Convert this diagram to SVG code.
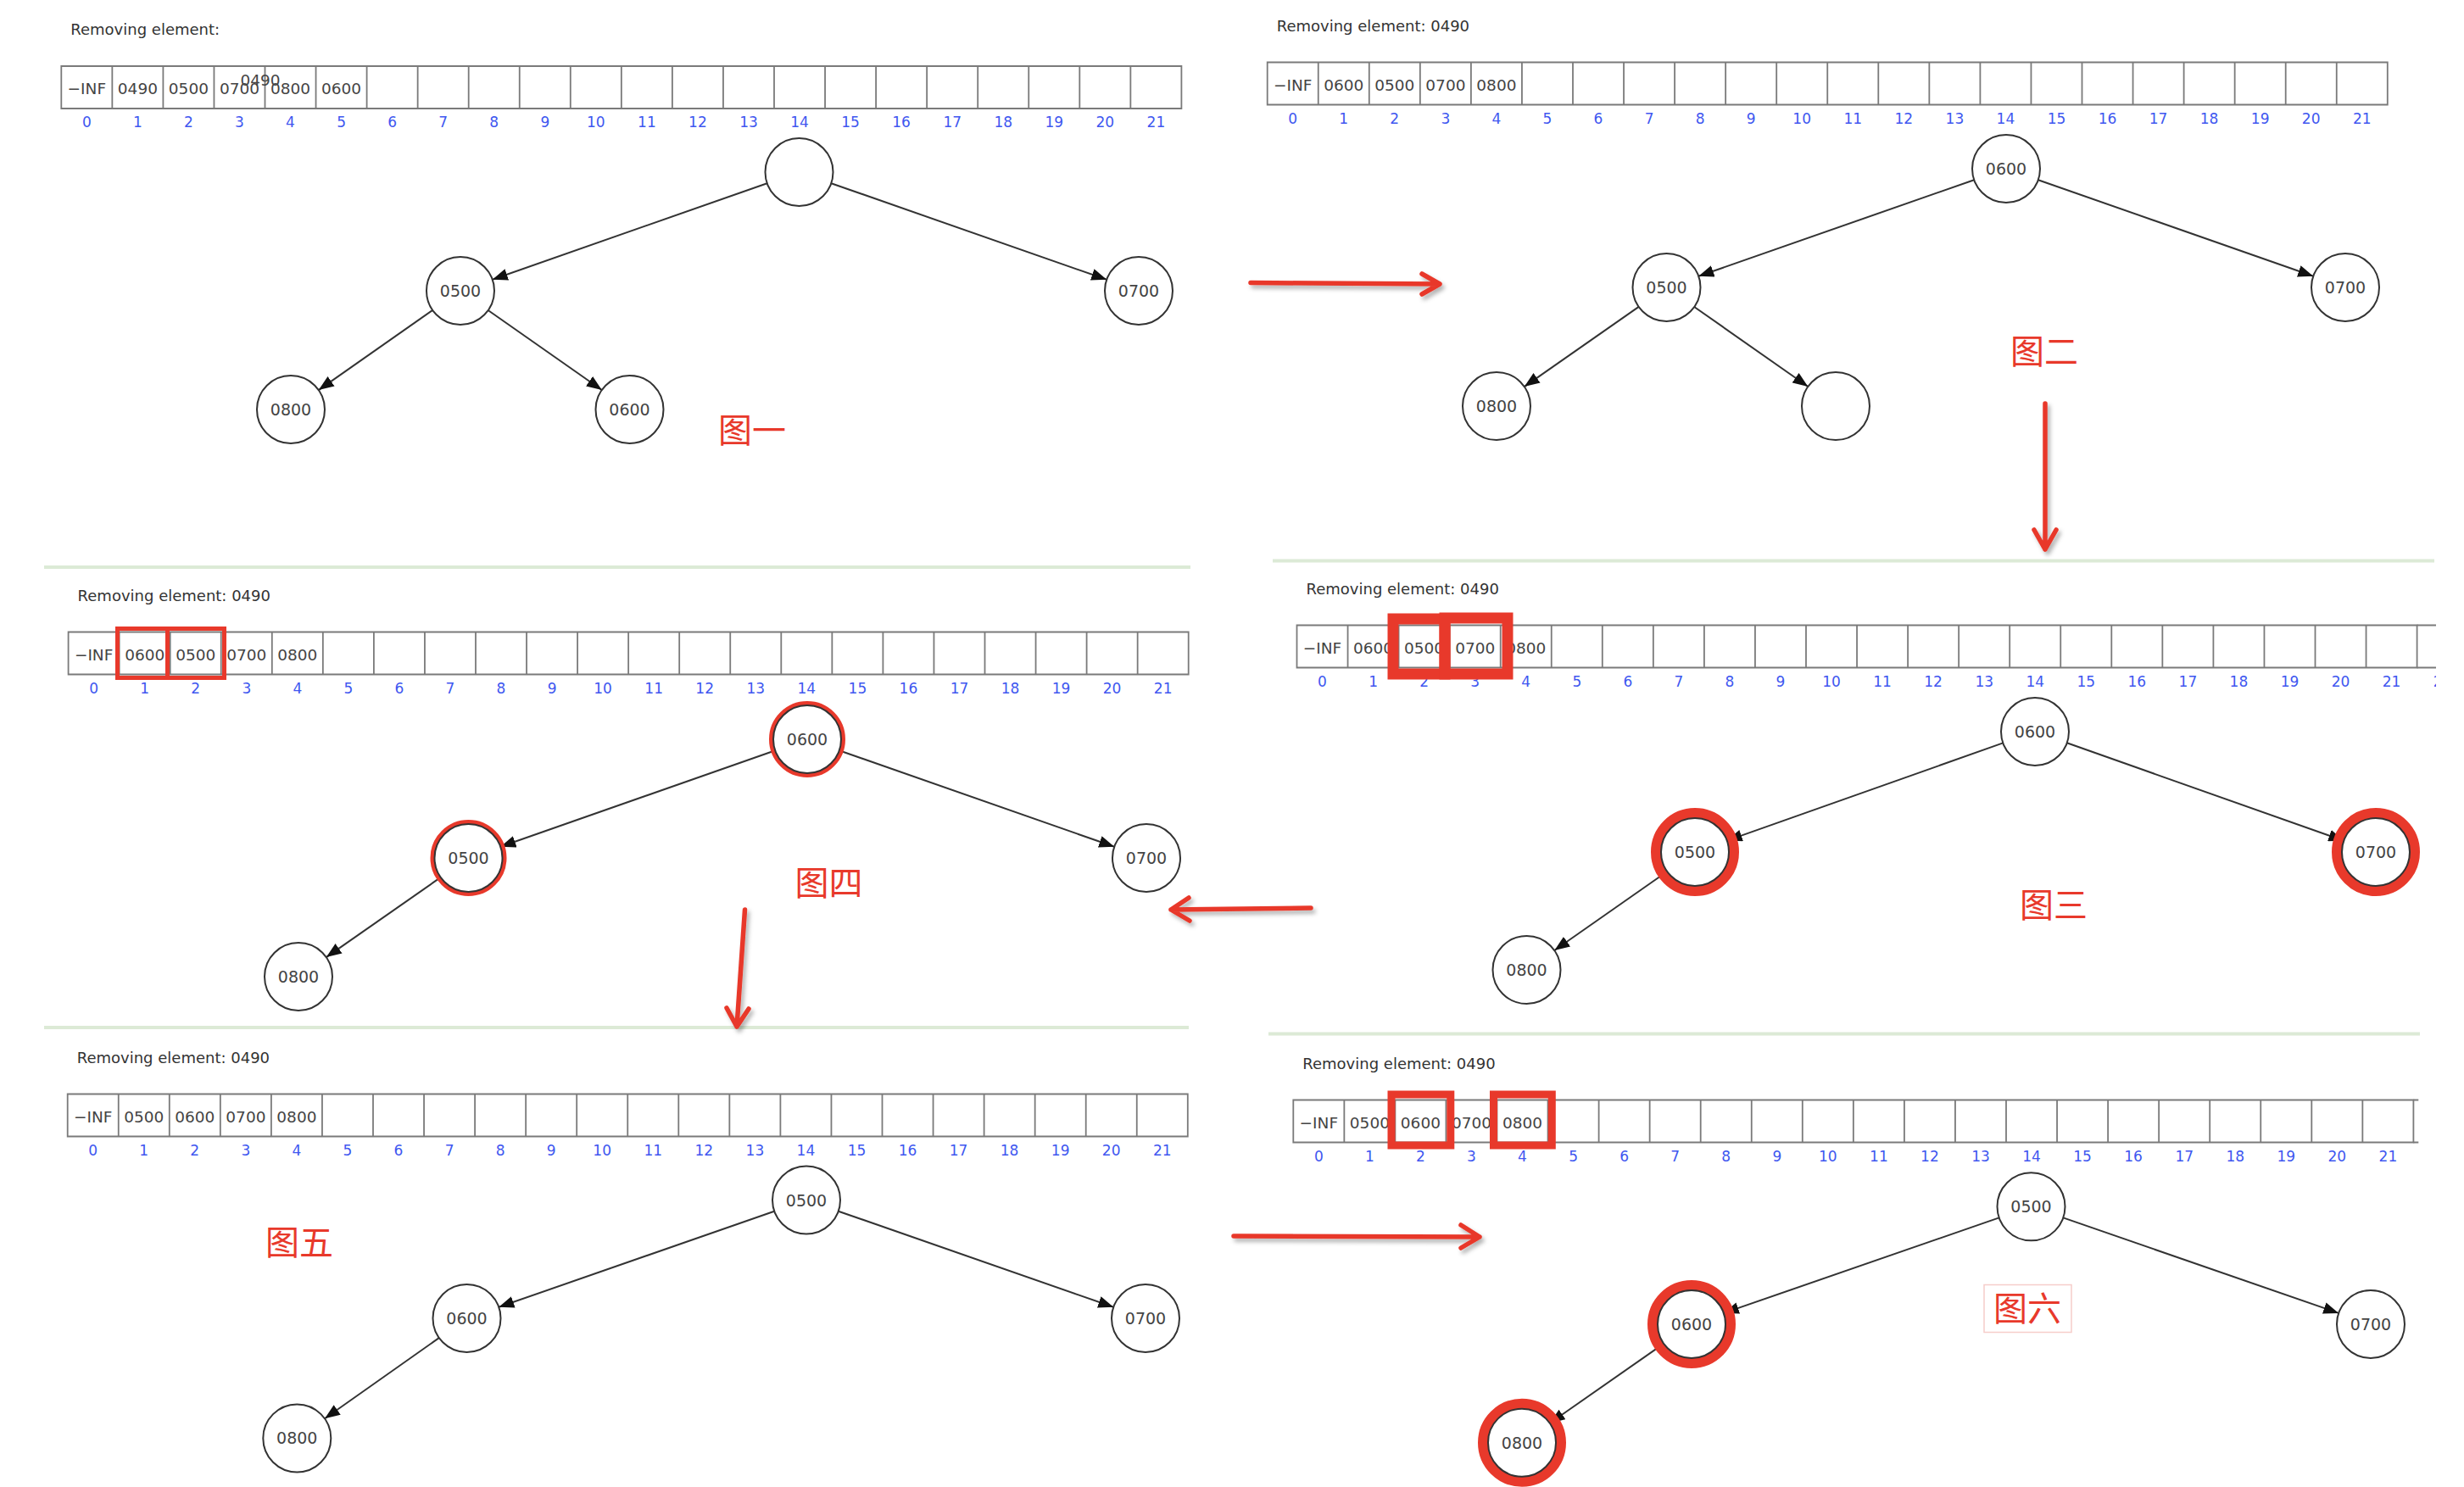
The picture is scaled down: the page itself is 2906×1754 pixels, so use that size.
<svg xmlns="http://www.w3.org/2000/svg" xmlns:xlink="http://www.w3.org/1999/xlink" width="2906" height="1754" viewBox="0 0 2906 1754">
<style>
.ttl{font-family:"DejaVu Sans","Liberation Sans",sans-serif;font-size:18px;fill:#333}
.cell{font-family:"DejaVu Sans","Liberation Sans",sans-serif;font-size:18.5px;fill:#444;text-anchor:middle}
.idx{font-family:"DejaVu Sans","Liberation Sans",sans-serif;font-size:17px;fill:#4057f0;text-anchor:middle}
.grid{fill:none;stroke:#7a7a7a;stroke-width:1.8}
.nc{fill:#fff;stroke:#333;stroke-width:2}
.nt{font-family:"DejaVu Sans","Liberation Sans",sans-serif;font-size:19px;fill:#444;text-anchor:middle}
.ring1{fill:none;stroke:#e8392b;stroke-width:5}
.ring2{fill:none;stroke:#e8392b;stroke-width:12}
.box{fill:none;stroke:#e8392b}
.edge{stroke:#333;stroke-width:2;fill:none;marker-end:url(#ah)}
.flow{stroke:#e8392b;stroke-width:5.5;fill:none;stroke-linecap:round;stroke-linejoin:round;filter:url(#sh)}
.sep{stroke:#dcead6;stroke-width:4}
.lbl{font-family:"Noto Sans CJK SC",sans-serif;font-size:40px;fill:#e8392b;text-anchor:middle}
</style>
<defs>
<marker id="ah" markerWidth="20" markerHeight="14" refX="18" refY="7" orient="auto" markerUnits="userSpaceOnUse">
<path d="M0,0 L18,7 L0,14 z" fill="#111"/>
</marker>
<filter id="sh" filterUnits="userSpaceOnUse" x="0" y="0" width="2906" height="1754">
<feDropShadow dx="3" dy="4" stdDeviation="2.5" flood-color="#000" flood-opacity="0.3"/>
</filter>
<clipPath id="clipD"><rect x="-20" y="-60" width="1363.5" height="160"/></clipPath>
<path id="grid" class="grid" d="M0,0H1321.1V50H0Z M60.05,0V50 M120.1,0V50 M180.15,0V50 M240.2,0V50 M300.25,0V50 M360.3,0V50 M420.35,0V50 M480.4,0V50 M540.45,0V50 M600.5,0V50 M660.55,0V50 M720.6,0V50 M780.65,0V50 M840.7,0V50 M900.75,0V50 M960.8,0V50 M1020.85,0V50 M1080.9,0V50 M1140.95,0V50 M1201,0V50 M1261.05,0V50"/>
<g id="idx">
<text class="idx" x="30" y="72">0</text>
<text class="idx" x="90.1" y="72">1</text>
<text class="idx" x="150.1" y="72">2</text>
<text class="idx" x="210.2" y="72">3</text>
<text class="idx" x="270.2" y="72">4</text>
<text class="idx" x="330.3" y="72">5</text>
<text class="idx" x="390.3" y="72">6</text>
<text class="idx" x="450.4" y="72">7</text>
<text class="idx" x="510.4" y="72">8</text>
<text class="idx" x="570.5" y="72">9</text>
<text class="idx" x="630.5" y="72">10</text>
<text class="idx" x="690.6" y="72">11</text>
<text class="idx" x="750.6" y="72">12</text>
<text class="idx" x="810.7" y="72">13</text>
<text class="idx" x="870.7" y="72">14</text>
<text class="idx" x="930.8" y="72">15</text>
<text class="idx" x="990.8" y="72">16</text>
<text class="idx" x="1050.9" y="72">17</text>
<text class="idx" x="1110.9" y="72">18</text>
<text class="idx" x="1171" y="72">19</text>
<text class="idx" x="1231" y="72">20</text>
<text class="idx" x="1291.1" y="72">21</text>
</g>
</defs>
<rect width="2906" height="1754" fill="#fff"/>

<g id="separators">
<line class="sep" x1="52" y1="669" x2="1404" y2="669"/>
<line class="sep" x1="52" y1="1212" x2="1402" y2="1212"/>
<line class="sep" x1="1501" y1="661.5" x2="2871" y2="661.5"/>
<line class="sep" x1="1496" y1="1219.5" x2="2854" y2="1219.5"/>
</g>

<g id="arrayA" transform="translate(72.3,78)">
<text class="ttl" x="11" y="-37">Removing element:</text>
<use xlink:href="#grid" href="#grid"/>
<use xlink:href="#idx" href="#idx"/>
<text class="cell" x="30" y="33">−INF</text>
<text class="cell" x="90.1" y="33">0490</text>
<text class="cell" x="150.1" y="33">0500</text>
<text class="cell" x="210.2" y="33">0700</text>
<text class="cell" x="270.2" y="33">0800</text>
<text class="cell" x="330.3" y="33">0600</text>
<text class="cell" x="234.7" y="23">0490</text>
</g>

<g id="arrayB" transform="translate(1494.7,73.5)">
<text class="ttl" x="11" y="-37">Removing element: 0490</text>
<use xlink:href="#grid" href="#grid"/>
<use xlink:href="#idx" href="#idx"/>
<text class="cell" x="30" y="33">−INF</text>
<text class="cell" x="90.1" y="33">0600</text>
<text class="cell" x="150.1" y="33">0500</text>
<text class="cell" x="210.2" y="33">0700</text>
<text class="cell" x="270.2" y="33">0800</text>
</g>

<g id="arrayC" transform="translate(80.6,745.5)">
<text class="ttl" x="11" y="-37">Removing element: 0490</text>
<use xlink:href="#grid" href="#grid"/>
<use xlink:href="#idx" href="#idx"/>
<text class="cell" x="30" y="33">−INF</text>
<text class="cell" x="90.1" y="33">0600</text>
<text class="cell" x="150.1" y="33">0500</text>
<text class="cell" x="210.2" y="33">0700</text>
<text class="cell" x="270.2" y="33">0800</text>
<rect class="box" stroke-width="5" x="57.9" y="-4" width="59" height="58"/>
<rect class="box" stroke-width="5" x="116.9" y="-4" width="67" height="58"/>
</g>

<g id="arrayD" transform="translate(1529.5,737.5)">
<text class="ttl" x="11" y="-37">Removing element: 0490</text>
<g clip-path="url(#clipD)">
<use xlink:href="#grid" href="#grid"/>
<path class="grid" d="M1321.1,0H1381.15V50H1321.1"/>
<use xlink:href="#idx" href="#idx"/>
<text class="idx" x="1351.1" y="72">22</text>
</g>
<text class="cell" x="30" y="33">−INF</text>
<text class="cell" x="90.1" y="33">0600</text>
<text class="cell" x="150.1" y="33">0500</text>
<text class="cell" x="210.2" y="33">0700</text>
<text class="cell" x="270.2" y="33">0800</text>
<rect class="box" stroke-width="13" x="113.5" y="-7.5" width="61" height="65"/>
<rect class="box" stroke-width="13" x="174.5" y="-8.5" width="74" height="66"/>
</g>

<g id="arrayE" transform="translate(79.7,1290.5)">
<text class="ttl" x="11" y="-37">Removing element: 0490</text>
<use xlink:href="#grid" href="#grid"/>
<use xlink:href="#idx" href="#idx"/>
<text class="cell" x="30" y="33">−INF</text>
<text class="cell" x="90.1" y="33">0500</text>
<text class="cell" x="150.1" y="33">0600</text>
<text class="cell" x="210.2" y="33">0700</text>
<text class="cell" x="270.2" y="33">0800</text>
</g>

<g id="arrayF" transform="translate(1525.3,1297.5)">
<text class="ttl" x="11" y="-37">Removing element: 0490</text>
<use xlink:href="#grid" href="#grid"/>
<path class="grid" d="M1321.1,0H1327 M1321.1,50H1327"/>
<use xlink:href="#idx" href="#idx"/>
<text class="cell" x="30" y="33">−INF</text>
<text class="cell" x="90.1" y="33">0500</text>
<text class="cell" x="150.1" y="33">0600</text>
<text class="cell" x="210.2" y="33">0700</text>
<text class="cell" x="270.2" y="33">0800</text>
<rect class="box" stroke-width="9" x="115.7" y="-6.5" width="69.8" height="60"/>
<rect class="box" stroke-width="9" x="236.2" y="-6.5" width="68.8" height="60"/>
</g>

<g id="connectors">
<line class="edge" x1="904.7" y1="216.2" x2="580.8" y2="329.8"/>
<line class="edge" x1="980.3" y1="216.2" x2="1305.2" y2="329.8"/>
<line class="edge" x1="510.2" y1="365.9" x2="375.8" y2="460.1"/>
<line class="edge" x1="575.7" y1="366" x2="709.8" y2="460"/>

<line class="edge" x1="2328.2" y1="212.2" x2="2003.3" y2="325.8"/>
<line class="edge" x1="2403.8" y1="212.2" x2="2728.2" y2="325.8"/>
<line class="edge" x1="1932.7" y1="361.9" x2="1797.8" y2="456.1"/>
<line class="edge" x1="1998.2" y1="362" x2="2132.3" y2="456"/>

<line class="edge" x1="914.2" y1="885.2" x2="590.3" y2="998.8"/>
<line class="edge" x1="989.8" y1="885.2" x2="1314.2" y2="998.8"/>
<line class="edge" x1="519.7" y1="1034.9" x2="384.8" y2="1129.1"/>

<line class="edge" x1="2362.3" y1="876.4" x2="2036.7" y2="991.6"/>
<line class="edge" x1="2437.7" y1="876.3" x2="2764.3" y2="991.7"/>
<line class="edge" x1="1966.2" y1="1028" x2="1833.3" y2="1121"/>

<line class="edge" x1="913.2" y1="1428.7" x2="588.3" y2="1541.8"/>
<line class="edge" x1="988.8" y1="1428.7" x2="1313.2" y2="1541.8"/>
<line class="edge" x1="517.8" y1="1578.1" x2="383" y2="1673.3"/>

<line class="edge" x1="2357.7" y1="1436.4" x2="2032.8" y2="1548.9"/>
<line class="edge" x1="2433.3" y1="1436.4" x2="2758.2" y2="1548.9"/>
<line class="edge" x1="1962.2" y1="1584.9" x2="1827.8" y2="1678.8"/>
</g>

<g id="A-root"><circle class="nc" cx="942.5" cy="203" r="40"/></g>
<g id="A-0500"><circle class="nc" cx="543" cy="343" r="40"/><text class="nt" x="543" y="350">0500</text></g>
<g id="A-0700"><circle class="nc" cx="1343" cy="343" r="40"/><text class="nt" x="1343" y="350">0700</text></g>
<g id="A-0800"><circle class="nc" cx="343" cy="483" r="40"/><text class="nt" x="343" y="490">0800</text></g>
<g id="A-0600"><circle class="nc" cx="742.5" cy="483" r="40"/><text class="nt" x="742.5" y="490">0600</text></g>

<g id="B-0600"><circle class="nc" cx="2366" cy="199" r="40"/><text class="nt" x="2366" y="206">0600</text></g>
<g id="B-0500"><circle class="nc" cx="1965.5" cy="339" r="40"/><text class="nt" x="1965.5" y="346">0500</text></g>
<g id="B-0700"><circle class="nc" cx="2766" cy="339" r="40"/><text class="nt" x="2766" y="346">0700</text></g>
<g id="B-0800"><circle class="nc" cx="1765" cy="479" r="40"/><text class="nt" x="1765" y="486">0800</text></g>
<g id="B-empty"><circle class="nc" cx="2165" cy="479" r="40"/></g>

<g id="C-0600"><circle class="ring1" cx="952" cy="872" r="42.5"/><circle class="nc" cx="952" cy="872" r="40"/><text class="nt" x="952" y="879">0600</text></g>
<g id="C-0500"><circle class="ring1" cx="552.5" cy="1012" r="42.5"/><circle class="nc" cx="552.5" cy="1012" r="40"/><text class="nt" x="552.5" y="1019">0500</text></g>
<g id="C-0700"><circle class="nc" cx="1352" cy="1012" r="40"/><text class="nt" x="1352" y="1019">0700</text></g>
<g id="C-0800"><circle class="nc" cx="352" cy="1152" r="40"/><text class="nt" x="352" y="1159">0800</text></g>

<g id="D-0600"><circle class="nc" cx="2400" cy="863" r="40"/><text class="nt" x="2400" y="870">0600</text></g>
<g id="D-0500"><circle class="ring2" cx="1999" cy="1005" r="46"/><circle class="nc" cx="1999" cy="1005" r="40"/><text class="nt" x="1999" y="1012">0500</text></g>
<g id="D-0700"><circle class="ring2" cx="2802" cy="1005" r="46"/><circle class="nc" cx="2802" cy="1005" r="40"/><text class="nt" x="2802" y="1012">0700</text></g>
<g id="D-0800"><circle class="nc" cx="1800.5" cy="1144" r="40"/><text class="nt" x="1800.5" y="1151">0800</text></g>

<g id="E-0500"><circle class="nc" cx="951" cy="1415.5" r="40"/><text class="nt" x="951" y="1422.5">0500</text></g>
<g id="E-0600"><circle class="nc" cx="550.5" cy="1555" r="40"/><text class="nt" x="550.5" y="1562">0600</text></g>
<g id="E-0700"><circle class="nc" cx="1351" cy="1555" r="40"/><text class="nt" x="1351" y="1562">0700</text></g>
<g id="E-0800"><circle class="nc" cx="350.3" cy="1696.4" r="40"/><text class="nt" x="350.3" y="1703.4">0800</text></g>

<g id="F-0500"><circle class="nc" cx="2395.5" cy="1423.3" r="40"/><text class="nt" x="2395.5" y="1430.3">0500</text></g>
<g id="F-0600"><circle class="ring2" cx="1995" cy="1562" r="46"/><circle class="nc" cx="1995" cy="1562" r="40"/><text class="nt" x="1995" y="1569">0600</text></g>
<g id="F-0700"><circle class="nc" cx="2796" cy="1562" r="40"/><text class="nt" x="2796" y="1569">0700</text></g>
<g id="F-0800"><circle class="ring2" cx="1795" cy="1701.7" r="46"/><circle class="nc" cx="1795" cy="1701.7" r="40"/><text class="nt" x="1795" y="1708.7">0800</text></g>

<g id="labels">
<text class="lbl" x="887" y="522">图一</text>
<text class="lbl" x="2411" y="429">图二</text>
<text class="lbl" x="2422" y="1082">图三</text>
<text class="lbl" x="977.6" y="1056">图四</text>
<text class="lbl" x="353" y="1480">图五</text>
<rect x="2340" y="1515.5" width="103" height="56" fill="none" stroke="#f6cdca" stroke-width="1.5"/>
<text class="lbl" x="2391" y="1558">图六</text>
</g>

<g id="flow-arrows">
<path class="flow" d="M1475,333.5 L1698,335 M1677,323 L1698,335 L1677,347"/>
<path class="flow" d="M2412,476 L2412,648 M2399,625 L2412,648 L2425,625"/>
<path class="flow" d="M1546,1071 L1381,1073 M1402,1059 L1381,1073 L1403,1086"/>
<path class="flow" d="M878.5,1073 L869,1211 M857,1189 L869,1211 L883,1190"/>
<path class="flow" d="M1455,1458 L1745,1459 M1723,1445 L1745,1459 L1723,1472"/>
</g>
</svg>
